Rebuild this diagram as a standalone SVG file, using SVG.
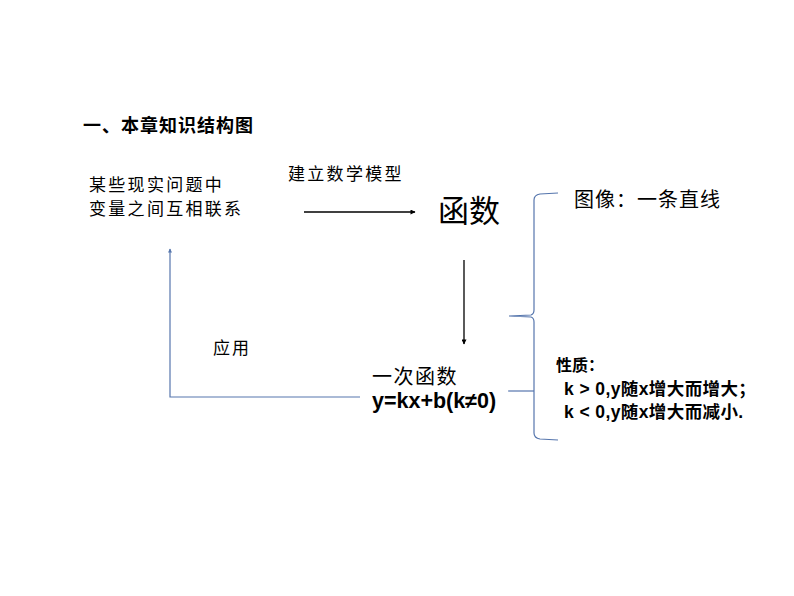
<svg xmlns="http://www.w3.org/2000/svg" width="794" height="596" viewBox="0 0 794 596">
<style>
.cn{font-family:"Noto Sans CJK SC","Liberation Serif",serif;fill:#000}
.b{font-family:"Liberation Sans","Noto Sans CJK SC",sans-serif;font-weight:bold;fill:#000}
.blue{stroke:#5676ad;stroke-width:1.2;fill:none}
.blk{stroke:#000;stroke-width:1.3;fill:none}
</style>
<defs>
<marker id="ah" viewBox="0 0 10 10" refX="9" refY="5" markerWidth="7" markerHeight="5" markerUnits="userSpaceOnUse" orient="auto"><path d="M0,0L10,5L0,10z" fill="#000"/></marker>
<marker id="ahb" viewBox="0 0 10 10" refX="9" refY="5" markerWidth="5" markerHeight="4" markerUnits="userSpaceOnUse" orient="auto"><path d="M0,0L10,5L0,10z" fill="#5676ad"/></marker>
</defs>
<rect width="794" height="596" fill="#fff"/>
<text class="cn" x="83" y="132" font-size="18" font-weight="bold" letter-spacing="1">一、本章知识结构图</text>
<g id="n-problem"><text class="cn" x="89" y="191" font-size="17" letter-spacing="2.3">某些现实问题中</text><text class="cn" x="89" y="215" font-size="17" letter-spacing="2.3">变量之间互相联系</text></g>
<g id="n-func"><text class="cn" x="438" y="222" font-size="31">函数</text></g>
<g id="n-image"><text class="cn" x="574" y="207" font-size="20" letter-spacing="1">图像：一条直线</text></g>
<g id="n-linear"><text class="cn" x="372" y="384" font-size="20" letter-spacing="1.5">一次函数</text><text class="b" x="372" y="408" font-size="21.5">y=kx+b(k≠0)</text></g>
<g id="n-prop"><text class="cn" x="556" y="371" font-size="16" font-weight="bold">性质：</text><text class="b" x="564" y="395" font-size="17.5" letter-spacing="0.4">k &gt; 0,y随x增大而增大；</text><text class="b" x="564" y="418" font-size="17.5" letter-spacing="0.4">k &lt; 0,y随x增大而减小.</text></g>
<g id="connectors">
<line class="blk" x1="304" y1="212" x2="415" y2="212" marker-end="url(#ah)"/>
<text class="cn" x="288" y="180" font-size="17" letter-spacing="2.3">建立数学模型</text>
<line class="blk" x1="464" y1="260" x2="464" y2="344" stroke-width="2" marker-end="url(#ah)"/>
<polyline class="blue" points="360,397 170,397 170,249" marker-end="url(#ahb)"/>
<text class="cn" x="213" y="354" font-size="17" letter-spacing="2">应用</text>
<path class="blue" d="M558,193 L540,194 Q534,195 534,200 L534,310 Q534,314 531,315 L509,316 L531,317 Q534,318 534,322 L534,433 Q534,438 540,439 L558,440"/>
<line class="blue" x1="508" y1="391" x2="534" y2="391"/>
</g>
</svg>
